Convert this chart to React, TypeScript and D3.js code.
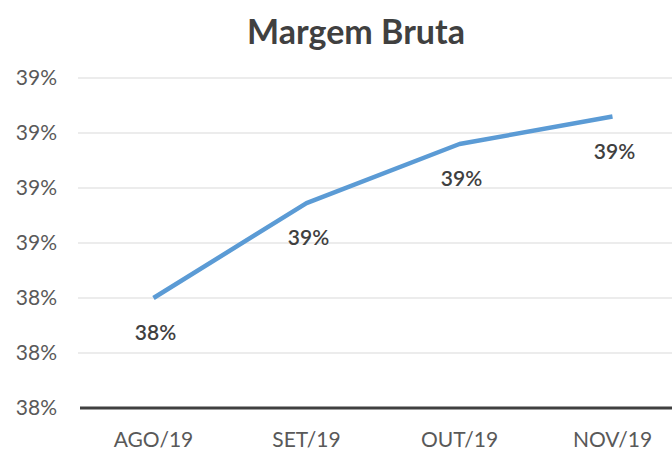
import React, { useEffect, useRef } from "react";
import * as d3 from "d3";

const months = ["AGO/19", "SET/19", "OUT/19", "NOV/19"];
const margemBruta = [38.4, 38.745, 38.96, 39.06];
const yTicks = [38.0, 38.2, 38.4, 38.6, 38.8, 39.0, 39.2];

const FONT = "Lato, 'Open Sans', sans-serif";

const MarginChart = () => {
  const svgRef = useRef<SVGSVGElement | null>(null);

  useEffect(() => {
    document.body.style.margin = "0";
    const width = 672;
    const height = 451;
    const margin = { top: 78, right: 0, bottom: 43, left: 78 };

    const svg = d3.select(svgRef.current);
    svg.selectAll("*").remove();
    svg.attr("width", width).attr("height", height);

    const x = d3
      .scaleBand()
      .domain(months)
      .range([77, 689])
      .padding(0);

    const y = d3
      .scaleLinear()
      .domain([38.0, 39.2])
      .range([height - margin.bottom, margin.top]);

    // gridlines
    svg
      .append("g")
      .selectAll("line")
      .data(yTicks.slice(1))
      .join("line")
      .attr("x1", margin.left)
      .attr("x2", width)
      .attr("y1", (d) => y(d))
      .attr("y2", (d) => y(d))
      .attr("stroke", "#d9d9d9")
      .attr("stroke-width", 1.2);

    // base line
    svg
      .append("line")
      .attr("x1", margin.left + 2)
      .attr("x2", width)
      .attr("y1", y(38.0))
      .attr("y2", y(38.0))
      .attr("stroke", "#404040")
      .attr("stroke-width", 3);

    // y tick labels
    svg
      .append("g")
      .selectAll("text")
      .data(yTicks)
      .join("text")
      .attr("x", 57)
      .attr("y", (d) => y(d) + 7)
      .attr("text-anchor", "end")
      .attr("fill", "#595959")
      .attr("font-family", FONT)
      .attr("font-size", "21px")
      .text((d) => `${Math.round(d)}%`);

    // x labels
    svg
      .append("g")
      .selectAll("text")
      .data(months)
      .join("text")
      .attr("x", (d) => x(d)! + x.bandwidth() / 2)
      .attr("y", 447)
      .attr("text-anchor", "middle")
      .attr("fill", "#595959")
      .attr("font-family", FONT)
      .attr("font-size", "21px")
      .text((d) => d);

    // line
    const line = d3
      .line<number>()
      .x((_, i) => x(months[i])! + x.bandwidth() / 2)
      .y((d) => y(d));

    svg
      .append("path")
      .datum(margemBruta)
      .attr("fill", "none")
      .attr("stroke", "#5b9bd5")
      .attr("stroke-width", 4.5)
      .attr("stroke-linejoin", "round")
      .attr("d", line);

    // data labels
    svg
      .append("g")
      .selectAll("text")
      .data(margemBruta)
      .join("text")
      .attr("x", (_, i) => x(months[i])! + x.bandwidth() / 2 + 2)
      .attr("y", (d) => y(d) + 42)
      .attr("text-anchor", "middle")
      .attr("fill", "#404040")
      .attr("font-family", FONT)
      .attr("font-weight", 600)
      .attr("font-size", "21px")
      .text((d) => `${Math.round(d)}%`);

    // title
    svg
      .append("text")
      .attr("x", 356)
      .attr("y", 44)
      .attr("text-anchor", "middle")
      .attr("fill", "#404040")
      .attr("font-family", FONT)
      .attr("font-weight", "bold")
      .attr("font-size", "34px")
      .text("Margem Bruta");
  }, []);

  return <svg ref={svgRef} style={{ display: "block" }} />;
};

export default function App() {
  return <MarginChart />;
}
